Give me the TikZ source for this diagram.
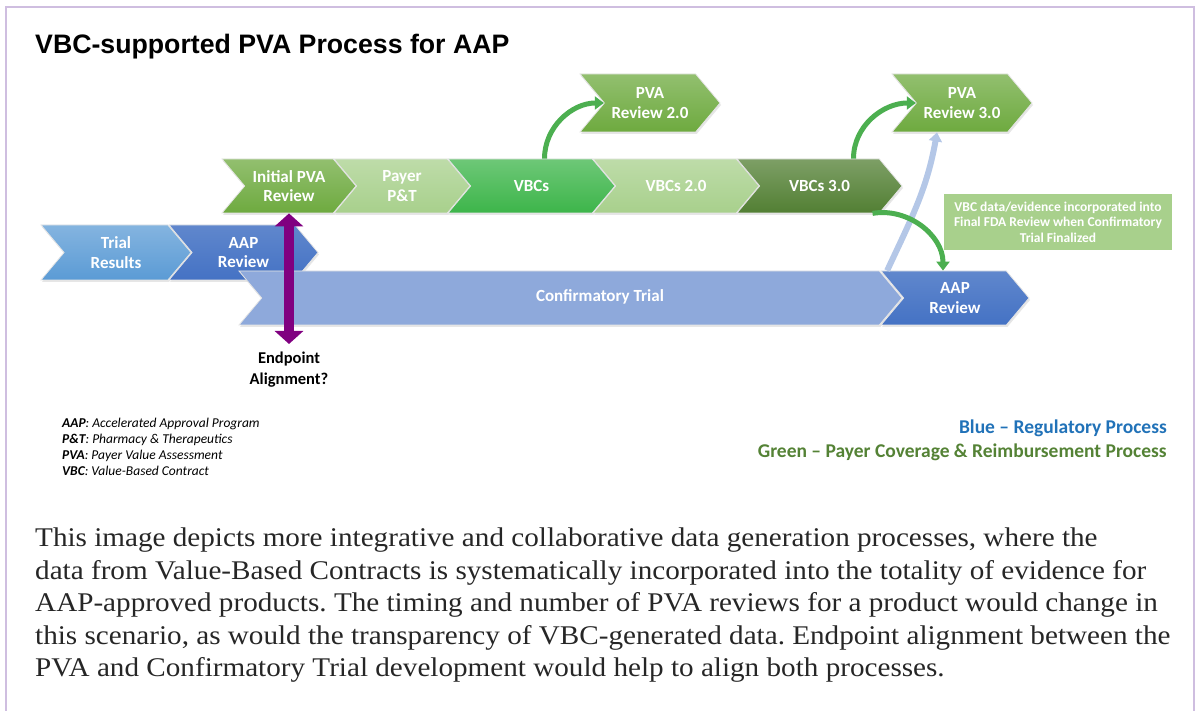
\documentclass[tikz,border=0pt]{standalone}
\usepackage{fontspec}
\setmainfont{Liberation Serif}[FakeStretch=1.08]
\newfontfamily\calfont{Carlito}
\newfontfamily\headfont{Liberation Sans}
\usetikzlibrary{arrows.meta, positioning, shapes.symbols, shadows}
\usepackage{xcolor}
\definecolor{pvagreen}{HTML}{6EAA3F}
\definecolor{palegreen}{HTML}{A8D08C}
\definecolor{vbcgreen}{HTML}{3DB54A}
\definecolor{deepgreen}{HTML}{527F33}
\definecolor{trialblue}{HTML}{5B9BD5}
\definecolor{aapblue}{HTML}{4472C4}
\definecolor{confblue}{HTML}{8EA9DB}
\definecolor{linkgreen}{HTML}{4CAF50}
\definecolor{linkblue}{HTML}{B4C7E7}
\definecolor{alignpurple}{HTML}{800080}
\definecolor{regblue}{HTML}{2172B8}
\definecolor{paygreen}{HTML}{548235}
\definecolor{framelilac}{HTML}{CFBEE0}
\def\rowsep{54}
\frenchspacing

\begin{document}
\begin{tikzpicture}[x=1pt, y=1pt, >={Triangle[width=13pt,length=9pt]}]
%all positions in px, y counted downwards as negative
    \tikzstyle{chevron}=[signal, signal from=west, signal to=east, signal pointer angle=100, draw=black!10, line width=.8pt, inner sep=0pt, text=white, align=center, font=\calfont\bfseries\fontsize{17}{19.5}\selectfont, drop shadow={shadow xshift=1pt, shadow yshift=-2pt, opacity=.2}]
    \tikzstyle{link}=[->, line width=5pt, draw=linkgreen]
    \tikzstyle{back link}=[->, line width=6pt, draw=linkblue]
    \tikzstyle{annot}=[inner sep=0pt, align=center, font=\calfont\bfseries\fontsize{16.5}{21}\selectfont]
    \tikzstyle{notebox}=[rectangle, fill=palegreen, text=white, minimum width=228, minimum height=56, inner sep=0pt, align=center, font=\calfont\bfseries\fontsize{13.5}{15.5}\selectfont]

    \useasboundingbox (0,0) rectangle (1200,-711);
    \draw[framelilac, line width=2.5pt] (6,-711) -- (6,-7) -- (1194,-7) -- (1194,-711);

    \node[anchor=base west, inner sep=0pt, font=\headfont\bfseries\fontsize{26.7}{30}\selectfont] (title) at (35,-54) {VBC-supported PVA Process for AAP};

	\foreach \name/\x/\w/\col/\txt in {ipva/289/134/pvagreen/{Initial PVA\\Review}, payer/402/136/palegreen/{Payer\\P\&T}, vbcs/531.5/167/vbcgreen/VBCs, vbcs2/676/166/palegreen/{VBCs 2.0}, vbcs3/819.5/165/deepgreen/{VBCs 3.0}}{
		\node[chevron, minimum width=\w, minimum height=\rowsep, top color=\col!75!white, bottom color=\col] (\name) at (\x,-186) {\txt};
	}

	\node[chevron, minimum width=140, minimum height=58, top color=pvagreen!75!white, bottom color=pvagreen] (pva2) at (650,-103) {PVA\\Review 2.0};
	\node[chevron, minimum width=140, minimum height=58, top color=pvagreen!75!white, bottom color=pvagreen] (pva3) at (962,-103) {PVA\\Review 3.0};

	\node[chevron, minimum width=150, minimum height=55, top color=trialblue!75!white, bottom color=trialblue] (trial) at (116,-252.5) {Trial\\Results};
	\node[chevron, minimum width=149, minimum height=55, top color=aapblue!85!white, bottom color=aapblue] (aap1) at (243.5,-252.5) {AAP\\Review};
	\node[chevron, minimum width=663, minimum height=\rowsep, fill=confblue] (conf) at (570.5,-298) {};
	\node[text=white, font=\calfont\bfseries\fontsize{17}{19.5}\selectfont] (conflabel) at (600,-297) {Confirmatory Trial};
	\node[chevron, minimum width=148, minimum height=\rowsep, top color=aapblue!85!white, bottom color=aapblue] (aap2) at (955,-298) {AAP\\Review};

	\node[notebox] (note) at (1058,-222) {VBC data/evidence incorporated into\\Final FDA Review when Confirmatory\\Trial Finalized};

	\draw[back link] ([xshift=7pt]aap2.north west) to[out=65, in=-100] ([xshift=-25pt]pva3.south);
	\draw[link] ([xshift=13pt]vbcs.north) to[out=90, in=180] (pva2.west);
	\draw[link] ([xshift=34pt]vbcs3.north) to[out=90, in=180] (pva3.west);
	\draw[link] ([xshift=-7pt]vbcs3.south east) to[out=10, in=90] ([xshift=-12pt]aap2.north);

	\coordinate (pbot) at (289,-344);
	\draw[alignpurple, line width=10pt, {Triangle[width=28pt,length=13pt]}-{Triangle[width=28pt,length=13pt]}] (pbot) -- (ipva.south);
	\node[annot, below=8pt of pbot] (endpt) {Endpoint\\Alignment?};

	\node[anchor=north west, inner sep=0pt, align=left, font=\calfont\itshape\fontsize{13.5}{16}\selectfont] (abbr) at (62,-418) {\textbf{AAP}: Accelerated Approval Program\\\textbf{P\&T}: Pharmacy \& Therapeutics\\\textbf{PVA}: Payer Value Assessment\\\textbf{VBC}: Value-Based Contract};
	\node[anchor=north east, inner sep=0pt, align=right, font=\calfont\bfseries\fontsize{19.5}{24}\selectfont] (key) at (1167,-420) {\textcolor{regblue}{Blue – Regulatory Process}\\\textcolor{paygreen}{Green – Payer Coverage \& Reimbursement Process}};

	\node[anchor=north west, inner sep=0pt, align=left, text=black!85, font=\fontsize{27}{32.5}\selectfont] (para) at (35,-528) {This image depicts more integrative and collaborative data generation processes, where the\\data from Value-Based Contracts is systematically incorporated into the totality of evidence for\\AAP-approved products. The timing and number of PVA reviews for a product would change in\\this scenario, as would the transparency of VBC-generated data. Endpoint alignment between the\\PVA and Confirmatory Trial development would help to align both processes.};
\end{tikzpicture}
\end{document}
